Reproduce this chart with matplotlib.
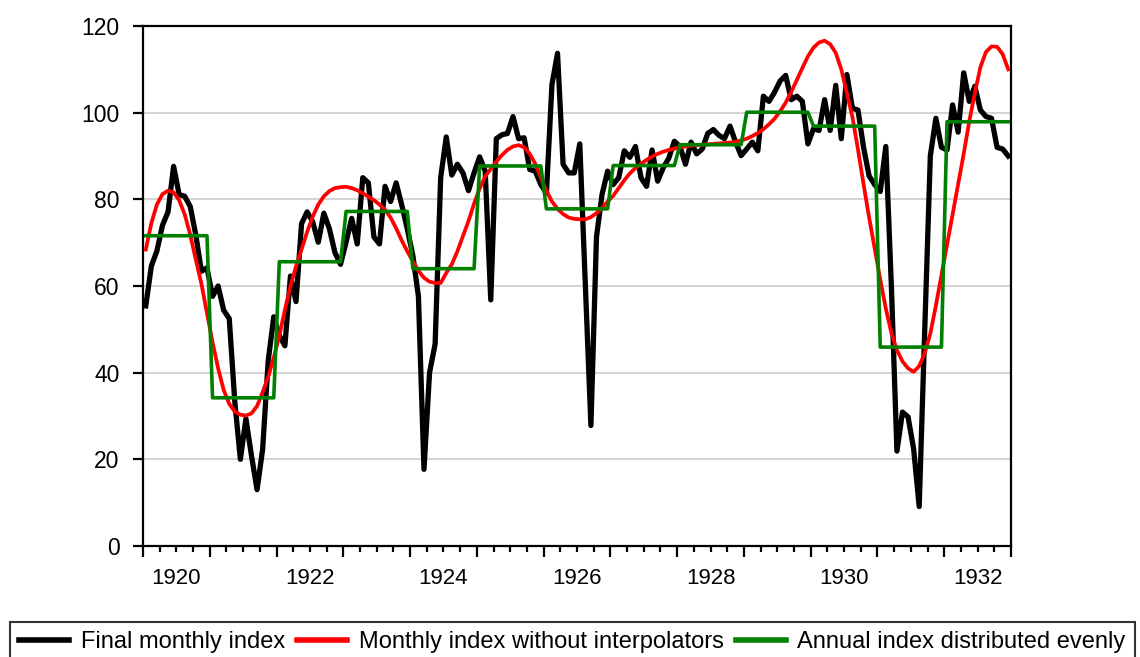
import numpy as np
import matplotlib
matplotlib.use('Agg')
import matplotlib.pyplot as plt
from matplotlib.ticker import MultipleLocator

plt.rcParams['font.family'] = ['Liberation Sans', 'DejaVu Sans']

# monthly series, Jan 1920 .. Dec 1932
final_index = [
    55.4, 64.6, 68.1, 74.0, 77.1, 87.6, 81.1, 80.7, 78.3, 71.7, 63.4, 64.2,
    57.6, 60.0, 54.4, 52.5, 33.3, 20.0, 29.4, 20.8, 13.0, 22.3, 42.7, 52.9,
    48.6, 46.2, 62.3, 56.4, 74.4, 77.1, 74.8, 70.1, 76.8, 73.2, 67.7, 65.0,
    70.1, 75.6, 69.7, 85.0, 83.8, 71.3, 69.7, 83.0, 79.5, 83.8, 78.7, 73.2,
    67.0, 57.6, 17.7, 40.0, 46.6, 85.0, 94.4, 85.6, 88.1, 86.1, 82.0, 86.1,
    89.8, 86.5, 56.8, 94.0, 94.9, 95.2, 99.1, 94.0, 94.2, 86.9, 86.5, 83.4,
    81.4, 106.5, 113.7, 88.1, 86.1, 86.1, 92.8, 60.0, 27.8, 71.3, 81.1, 86.5,
    83.4, 85.0, 91.2, 89.7, 92.2, 85.0, 83.0, 91.4, 84.2, 87.3, 89.5, 93.4,
    92.2, 88.1, 93.2, 90.5, 91.6, 95.2, 96.1, 94.8, 94.0, 96.9, 93.2, 90.1,
    91.6, 93.2, 91.2, 103.8, 102.6, 104.7, 107.3, 108.6, 103.0, 103.8, 102.6, 92.8,
    96.3, 95.9, 103.0, 95.9, 106.3, 94.0, 108.8, 101.0, 100.6, 92.0, 85.4, 83.4,
    81.8, 92.2, 60.0, 21.9, 30.9, 29.8, 22.4, 9.1, 50.0, 90.0, 98.7, 92.0,
    91.4, 101.8, 95.5, 109.2, 102.6, 106.1, 100.6, 99.1, 98.7, 92.0, 91.6, 90.0,
]

no_interp_index = [
    68.4, 74.5, 78.8, 81.2, 82.0, 81.6, 79.8, 76.5, 71.8, 66.0, 60.5, 53.8,
    47.0, 41.0, 36.0, 32.8, 31.0, 30.3, 30.1, 30.6, 32.3, 35.5, 39.0, 43.5,
    48.5, 54.5, 60.0, 64.5, 68.5, 72.5, 76.0, 78.8, 80.7, 81.9, 82.6, 82.8,
    82.9, 82.6, 82.1, 81.4, 80.6, 79.8, 78.8, 77.6, 75.8, 73.3, 70.5, 68.0,
    65.7, 63.5, 61.9, 61.0, 60.7, 60.7, 63.0, 65.0, 68.0, 71.5, 75.0, 79.0,
    82.5, 85.3, 87.0, 88.7, 90.2, 91.4, 92.2, 92.5, 92.0, 90.5, 88.2, 85.0,
    82.0, 79.5, 77.8, 76.6, 75.8, 75.5, 75.4, 75.4, 75.9, 76.8, 78.0, 79.5,
    80.8, 82.6, 84.4, 86.0, 87.2, 88.2, 89.1, 89.9, 90.5, 91.0, 91.4, 91.7,
    92.0, 92.2, 92.4, 92.5, 92.6, 92.7, 92.8, 92.9, 93.0, 93.1, 93.3, 93.6,
    94.0, 94.6, 95.3, 96.2, 97.3, 98.6, 100.3, 102.3, 104.8, 107.5, 110.3, 113.0,
    115.0, 116.2, 116.6, 115.8, 113.8, 110.0, 104.5, 99.0, 91.5, 83.5, 75.8, 68.6,
    61.5, 54.8, 49.2, 45.2, 42.6, 41.0, 40.2, 41.5, 44.5, 49.0, 55.5, 62.5,
    69.5, 76.5, 83.5, 90.5, 98.0, 104.5, 110.5, 114.0, 115.3, 115.2, 113.5, 110.0,
]

years = list(range(1920, 1933))
annual_index = [71.6, 34.2, 65.6, 77.2, 64.0, 87.7, 77.8, 87.8, 92.6, 100.1, 96.9, 45.9, 97.9]

x = 1920 + (np.arange(len(final_index)) + 0.5) / 12.0
annual_monthly = np.repeat(annual_index, 12)

fig = plt.figure(figsize=(11.4, 6.57), dpi=100)
ax = fig.add_axes([143 / 1140, 1 - 546 / 657, (1011 - 143) / 1140, (546 - 26) / 657])

ax.plot(x, final_index, color='black', lw=3.8, solid_joinstyle='round', zorder=3,
        label='Final monthly index')
ax.plot(x, no_interp_index, color='#ff0000', lw=2.7, zorder=4,
        label='Monthly index without interpolators')
ax.plot(x, annual_monthly, color='#008000', lw=2.6, zorder=5,
        label='Annual index distributed evenly')

ax.set_xlim(1920, 1933)
ax.set_ylim(0, 120)
ax.set_yticks(range(0, 121, 20))
ax.yaxis.grid(True, color='#d0d0d0', lw=1.3, zorder=0)
ax.set_axisbelow(True)

ax.xaxis.set_major_locator(MultipleLocator(1))
ax.xaxis.set_minor_locator(MultipleLocator(0.25))
ax.set_xticklabels([])
ax.tick_params(axis='x', which='major', length=8, width=1.6, direction='out')
ax.tick_params(axis='x', which='minor', length=4.5, width=1.6, direction='out')
ax.tick_params(axis='y', length=7, width=1.6, labelsize=16.5, pad=10)
for s in ax.spines.values():
    s.set_linewidth(1.6)

# year labels sit in the middle of each year
sec = ax.secondary_xaxis('bottom')
sec.set_xticks([y + 0.5 for y in years[::2]], [str(y) for y in years[::2]])
sec.tick_params(length=0, labelsize=16, pad=16)
sec.spines['bottom'].set_visible(False)

leg = fig.legend(loc='upper left', bbox_to_anchor=(10 / 1140, 1 - 622 / 657 - 0.05, 1125 / 1140, 0.05),
                 ncol=3, mode='expand', fontsize=17, frameon=True, fancybox=False,
                 edgecolor='black', handlelength=2.1, handletextpad=0.5,
                 borderpad=0.4, borderaxespad=0)
leg.get_frame().set_linewidth(1.5)
for h in leg.get_lines():
    h.set_linewidth(4)

fig.savefig('out.png', dpi=100)
